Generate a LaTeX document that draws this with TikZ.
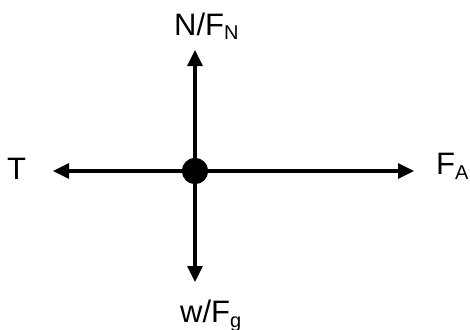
\documentclass[tikz,border=0pt]{standalone}
\usepackage{fontspec}
\setmainfont{Liberation Sans}
\usetikzlibrary{arrows.meta}
\newcommand{\lowsub}[1]{\raisebox{-5pt}{\fontsize{20}{21}\selectfont #1}}
\tikzset{
  force/.style={line width=3.3pt,-{Triangle[length=16pt,width=15pt]}},
  lbl/.style={font=\fontsize{31}{33}\selectfont, inner sep=0pt}
}
\begin{document}
\begin{tikzpicture}[x=1pt,y=-1pt]
\useasboundingbox (0,0) rectangle (470,329);
\node[circle,fill=black,minimum size=26pt,inner sep=0pt] (c) at (195,171) {};
\coordinate (up) at (195,50);
\coordinate (down) at (195,282);
\coordinate (left) at (53,171);
\coordinate (right) at (414,171);
\draw[force] (c.center) -- (up);
\draw[force] (c.center) -- (down);
\draw[force] (c.center) -- (left);
\draw[force] (c.center) -- (right);
\node[circle,fill=black,minimum size=26pt,inner sep=0pt] at (c) {};
\node[lbl,anchor=base west] (n) at (174,35) {N/F\lowsub{N}};
\node[lbl,anchor=base west] (t) at (7,179) {T};
\node[lbl,anchor=base west] (fa) at (436,174) {F\lowsub{A}};
\node[lbl,anchor=base west] (w) at (180,322) {w/F\lowsub{g}};
\end{tikzpicture}
\end{document}
